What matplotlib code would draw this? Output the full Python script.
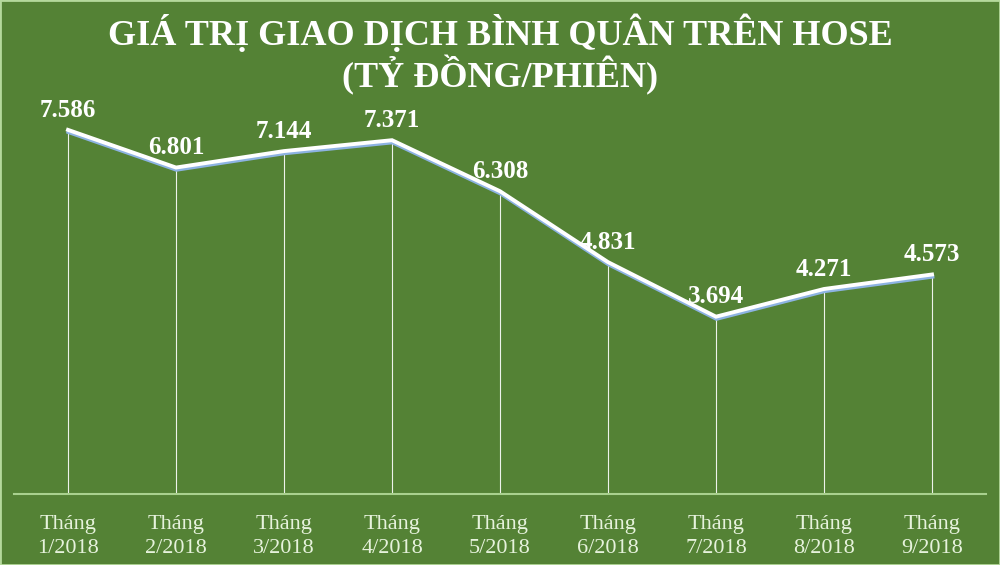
import numpy as np
import matplotlib.pyplot as plt
import matplotlib.patheffects as pe

months = ['Tháng\n1/2018', 'Tháng\n2/2018', 'Tháng\n3/2018', 'Tháng\n4/2018', 'Tháng\n5/2018',
          'Tháng\n6/2018', 'Tháng\n7/2018', 'Tháng\n8/2018', 'Tháng\n9/2018']
values = [7.586, 6.801, 7.144, 7.371, 6.308, 4.831, 3.694, 4.271, 4.573]
labels = ['7.586', '6.801', '7.144', '7.371', '6.308', '4.831', '3.694', '4.271', '4.573']

bg = '#548235'
serif = ['Liberation Serif', 'DejaVu Serif']

fig = plt.figure(figsize=(10, 5.65), dpi=100, facecolor=bg)
fig.patches.append(plt.Rectangle((0, 0), 1, 1, transform=fig.transFigure,
                                 fill=False, edgecolor='#b5d99c', linewidth=2))
ax = fig.add_axes([0.014, 0.1257, 0.972, 0.6796])
ax.set_facecolor(bg)

x = np.arange(len(values))
ax.set_xlim(-0.5, len(values) - 0.5)
ax.set_ylim(0, 8)

# drop lines
ax.vlines(x, 0, values, color='white', linewidth=0.8, alpha=0.9)

ax.plot(x, values, color='white', linewidth=2.8, solid_joinstyle='miter',
        path_effects=[pe.SimpleLineShadow(offset=(0.3, -1.6), shadow_color='#8db3e2', alpha=1.0),
                      pe.Normal()])

for xi, v, lab in zip(x, values, labels):
    ax.annotate(lab, (xi, v), xytext=(0, 9.5), textcoords='offset points',
                ha='center', va='baseline', color='white', fontsize=18,
                fontweight='bold', family=serif)

for s in ['left', 'right', 'top']:
    ax.spines[s].set_visible(False)
ax.spines['bottom'].set_color('#a9d18e')
ax.spines['bottom'].set_linewidth(1.5)
ax.set_yticks([])
ax.set_xticks(x)
ax.set_xticklabels(months, color='#e6f2dc', fontsize=16, family=serif, linespacing=1.35)
ax.tick_params(axis='x', length=0, pad=15)

# title, two lines placed by baseline
fig.text(0.5, 1 - 45 / 565, 'GIÁ TRỊ GIAO DỊCH BÌNH QUÂN TRÊN HOSE',
         ha='center', va='baseline', color='white', fontsize=26, fontweight='bold', family=serif)
fig.text(0.5, 1 - 87 / 565, '(TỶ ĐỒNG/PHIÊN)',
         ha='center', va='baseline', color='white', fontsize=26, fontweight='bold', family=serif)

plt.savefig('out.png', dpi=100, facecolor=bg)
